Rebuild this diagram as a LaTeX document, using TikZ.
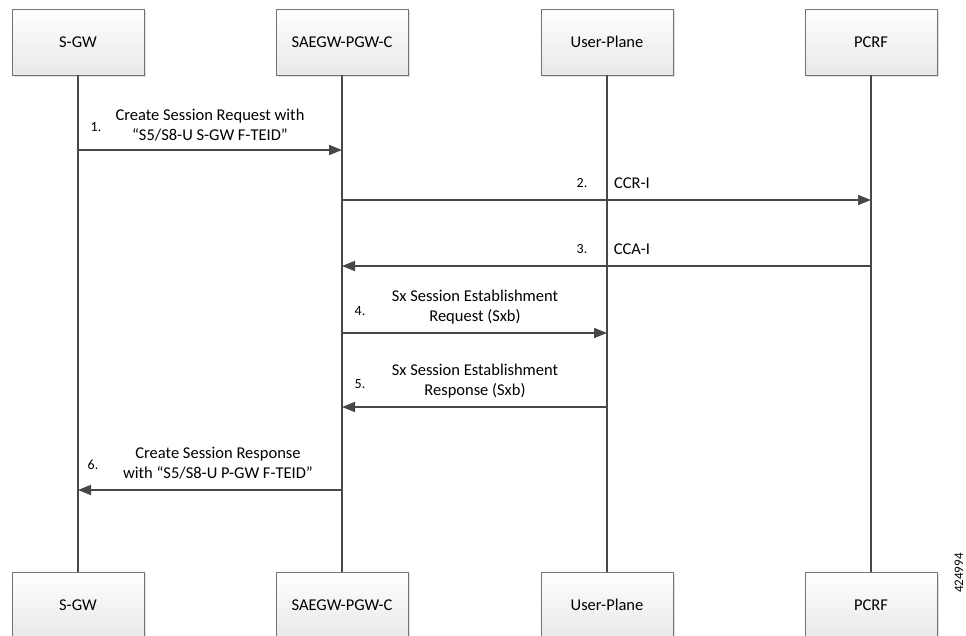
\documentclass[tikz,border=0pt]{standalone}
\usepackage{fontspec}
\setmainfont{Carlito}
\usetikzlibrary{arrows.meta,positioning,shadows}

\tikzset{
  entity/.style={draw=black!55, fill=black!4, top color=white, bottom color=black!9,
    minimum width=132pt, minimum height=66pt, inner sep=0pt,
    drop shadow={shadow xshift=1.5pt, shadow yshift=-1.5pt, opacity=0.25},
    font=\fontsize{16.5}{19}\selectfont},
  lifeline/.style={line width=1.8pt, draw=black!72},
  msg/.style={line width=1.8pt, draw=black!72, -{Triangle[length=13pt,width=10pt]}},
  msgtext/.style={align=center, inner sep=0pt, font=\fontsize{16.5}{20.5}\selectfont},
  stepno/.style={inner sep=0pt, font=\fontsize{14}{16}\selectfont}
}

\begin{document}
\begin{tikzpicture}[x=1pt,y=-1pt]
        \useasboundingbox (0,0) rectangle (966,635);
        \node[entity] (sgw) at (78,42) {S-GW};
        \node[entity] (pgwc) at (342,42) {SAEGW-PGW-C};
        \node[entity] (up) at (607,42) {User-Plane};
        \node[entity] (pcrf) at (871,42) {PCRF};
        \node[entity] (sgwb) at (78,605) {S-GW};
        \node[entity] (pgwcb) at (342,605) {SAEGW-PGW-C};
        \node[entity] (upb) at (607,605) {User-Plane};
        \node[entity] (pcrfb) at (871,605) {PCRF};
        \draw[lifeline] (sgw) -- (sgwb);
        \draw[lifeline] (pgwc) -- (pgwcb);
        \draw[lifeline] (up) -- (upb);
        \draw[lifeline] (pcrf) -- (pcrfb);
        \coordinate (m1a) at (sgw |- 0,150);
        \coordinate (m1b) at (pgwc |- 0,150);
        \coordinate (m2a) at (pgwc |- 0,200);
        \coordinate (m2b) at (pcrf |- 0,200);
        \coordinate (m3a) at (pcrf |- 0,266);
        \coordinate (m3b) at (pgwc |- 0,266);
        \coordinate (m4a) at (pgwc |- 0,333);
        \coordinate (m4b) at (up |- 0,333);
        \coordinate (m5a) at (up |- 0,407);
        \coordinate (m5b) at (pgwc |- 0,407);
        \coordinate (m6a) at (pgwc |- 0,490);
        \coordinate (m6b) at (sgw |- 0,490);
        \draw[msg] (m1a) -- (m1b);
        \draw[msg] (m2a) -- (m2b);
        \draw[msg] (m3a) -- (m3b);
        \draw[msg] (m4a) -- (m4b);
        \draw[msg] (m5a) -- (m5b);
        \draw[msg] (m6a) -- (m6b);
        \node[stepno] (n1) at (96,127) {1.};
        \node[msgtext] (t1) at (210,125) {Create Session Request with\\``S5/S8-U S-GW F-TEID''};
        \node[stepno] (n2) at (582,183) {2.};
        \node[msgtext] (t2) at (632,183) {CCR-I};
        \node[stepno] (n3) at (582,249) {3.};
        \node[msgtext] (t3) at (632,249) {CCA-I};
        \node[stepno] (n4) at (360,311) {4.};
        \node[msgtext] (t4) at (475,307) {Sx Session Establishment\\Request (Sxb)};
        \node[stepno] (n5) at (360,384) {5.};
        \node[msgtext] (t5) at (475,381) {Sx Session Establishment\\Response (Sxb)};
        \node[stepno] (n6) at (93,465) {6.};
        \node[msgtext] (t6) at (218,463) {Create Session Response\\with ``S5/S8-U P-GW F-TEID''};
        \node[stepno, rotate=90, font=\fontsize{13}{15}\selectfont] (fig) at (959,573) {424994};
    \end{tikzpicture}
\end{document}
